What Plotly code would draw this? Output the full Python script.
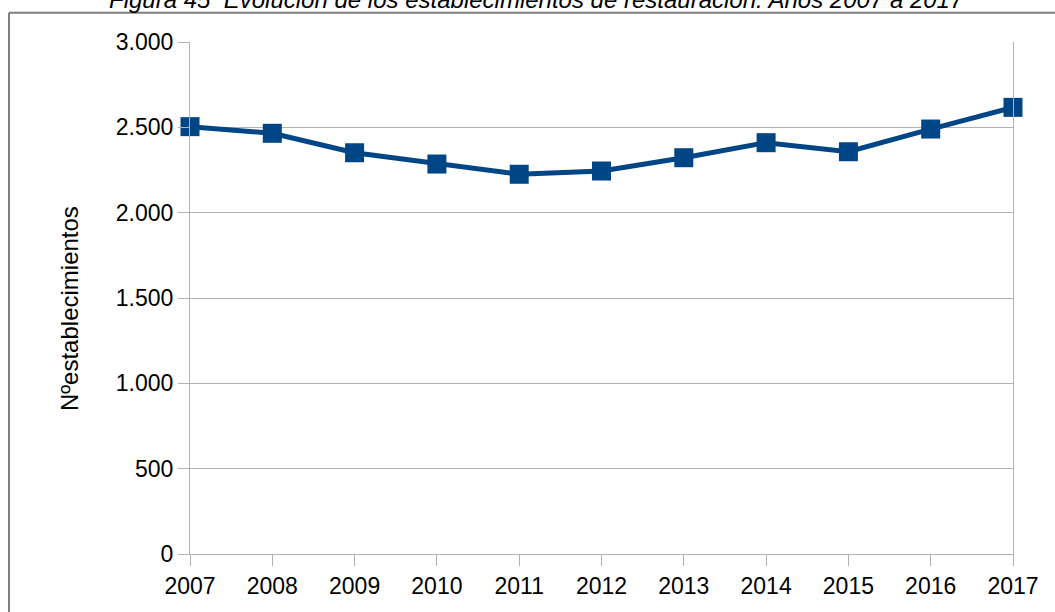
import plotly.graph_objects as go

# Number of restaurant establishments per year
years = [2007, 2008, 2009, 2010, 2011, 2012, 2013, 2014, 2015, 2016, 2017]
establecimientos = [2504, 2465, 2351, 2285, 2225, 2244, 2322, 2410, 2357, 2490, 2617]

ytick_vals = [0, 500, 1000, 1500, 2000, 2500, 3000]
ytick_text = ["0", "500", "1.000", "1.500", "2.000", "2.500", "3.000"]

title_text = "Figura 45  Evolución de los establecimientos de restauración. Años 2007 a 2017"
ytitle_text = "Nºestablecimientos"

W, H = 1055, 612
L, R, T, B = 190, 42, 42, 58
pw, ph = W - L - R, H - T - B


def px_x(p):
    return (p - L) / pw


def px_y(p):
    return 1 + (T - p) / ph


blue = "#004586"
grid = "#b3b3b3"
font_family = "Liberation Sans, Arial, sans-serif"

fig = go.Figure()
fig.add_trace(go.Scatter(
    x=years, y=establecimientos,
    mode="lines+markers",
    line=dict(color=blue, width=5),
    marker=dict(symbol="square", size=19, color=blue, line=dict(width=0)),
    cliponaxis=False,
    showlegend=False,
))

fig.update_layout(
    width=W, height=H,
    margin=dict(l=L, r=R, t=T, b=B),
    paper_bgcolor="white",
    plot_bgcolor="white",
    font=dict(family=font_family, size=23, color="black"),
    xaxis=dict(
        range=[2007, 2017],
        tickvals=years,
        ticktext=[str(y) for y in years],
        showgrid=False,
        zeroline=False,
        showline=True, linecolor=grid, linewidth=1,
        ticks="outside", ticklen=11, tickcolor=grid, tickwidth=1,
        tickfont=dict(size=23),
    ),
    yaxis=dict(
        range=[0, 3000],
        tickvals=ytick_vals,
        ticktext=ytick_text,
        showgrid=True, gridcolor=grid, gridwidth=1,
        zeroline=False,
        showline=True, linecolor=grid, linewidth=1, mirror=True,
        ticks="outside", ticklen=11, tickcolor=grid, tickwidth=1,
        tickfont=dict(size=23),
    ),
    annotations=[
        dict(
            text="<i>" + title_text + "</i>",
            xref="paper", yref="paper",
            x=px_x(536.5), y=px_y(-1),
            xanchor="center", yanchor="middle",
            showarrow=False,
            font=dict(size=24, color="black"),
        ),
        dict(
            text=ytitle_text,
            xref="paper", yref="paper",
            x=px_x(69), y=px_y(309),
            xanchor="center", yanchor="middle",
            textangle=-90,
            showarrow=False,
            font=dict(size=24, color="black"),
        ),
    ],
    shapes=[
        # outer frame around the chart
        dict(type="line", xref="paper", yref="paper",
             x0=px_x(9), x1=px_x(1070), y0=px_y(12.7), y1=px_y(12.7),
             line=dict(color="#808080", width=2)),
        dict(type="line", xref="paper", yref="paper",
             x0=px_x(9), x1=px_x(9), y0=px_y(12.7), y1=px_y(640),
             line=dict(color="#808080", width=2)),
    ],
)

fig.write_html("out.html")
